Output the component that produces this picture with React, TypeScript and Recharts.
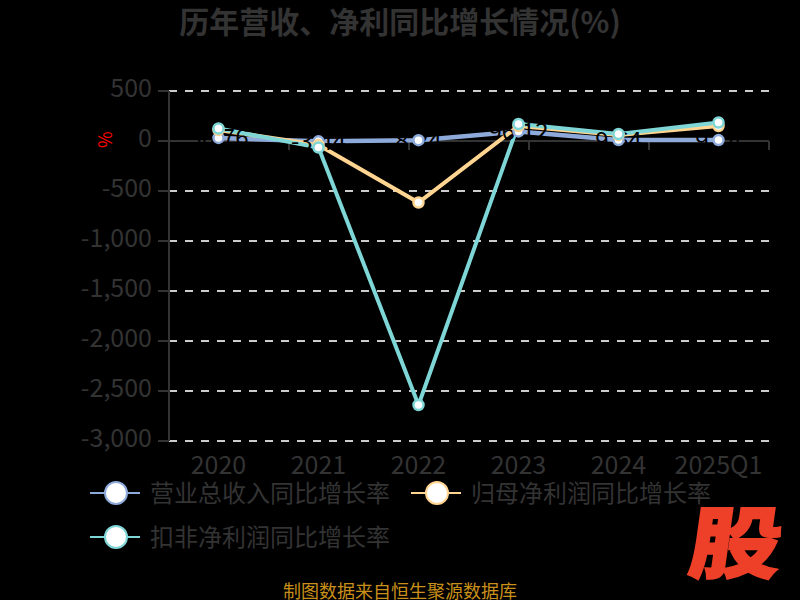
import { LineChart, Line, XAxis, YAxis, CartesianGrid, ReferenceLine, LabelList, Label } from 'recharts'

const years = ['2020', '2021', '2022', '2023', '2024', '2025Q1']
const revenue = [30.76, -3.44, 8.24, 96.12, 9.64, 9.14]
const netProfit = [110, -40, -615, 150, 60, 150]
const deducted = [125, -65, -2640, 170, 70, 185]
const yTicks = [500, 0, -500, -1000, -1500, -2000, -2500, -3000]
const gridValues = [500, -500, -1000, -1500, -2000, -2500, -3000]
const tickBoundaries = [0, 1, 2, 3, 4, 5, 6]

const names = ['营业总收入同比增长率', '归母净利润同比增长率', '扣非净利润同比增长率']
const colors = ['#8eaadb', '#ffd591', '#7fd6d6']
const keys = ['revenue', 'netProfit', 'deducted']

const data = years.map((year, i) => ({
  year,
  revenue: revenue[i],
  netProfit: netProfit[i],
  deducted: deducted[i],
}))

const FONT = '"Noto Sans CJK SC", "Noto Sans", sans-serif'
const AXIS = '#333'

function LegendItem({ index, left, top }: { index: number; left: number; top: number }) {
  return (
    <div style={{ position: 'absolute', left, top, height: 30, width: 300 }}>
      <div style={{ position: 'absolute', left: 0, top: 14, width: 50, height: 2, background: colors[index] }} />
      <div
        style={{
          position: 'absolute', left: 13.5, top: 3, width: 20, height: 20, borderRadius: '50%',
          background: '#fff', border: `2px solid ${colors[index]}`,
        }}
      />
      <div style={{ position: 'absolute', left: 60, top: -4, fontSize: 24, lineHeight: '36px', color: AXIS, whiteSpace: 'nowrap' }}>
        {names[index]}
      </div>
    </div>
  )
}

export default function App() {
  const dot = (color: string) => ({ r: 5, fill: '#fff', stroke: color, strokeWidth: 2.5 })
  return (
    <div style={{ position: 'absolute', left: 0, top: 0, width: 800, height: 600, background: '#000', overflow: 'hidden', fontFamily: FONT }}>
      <div style={{ position: 'absolute', left: 0, width: 800, top: 0, textAlign: 'center', fontSize: 30, fontWeight: 700, lineHeight: '40px', color: AXIS }}>
        历年营收、净利同比增长情况(%)
      </div>
      <LineChart
        width={800}
        height={600}
        data={data}
        margin={{ top: 91, right: 31, bottom: 119, left: 0 }}
        style={{ position: 'absolute', left: 0, top: 0, fontFamily: FONT }}
      >
        <CartesianGrid vertical={false} horizontalValues={gridValues} stroke="#ccc" strokeWidth={2} strokeDasharray="8 8" />
        <XAxis
          dataKey="year"
          padding={{ left: 49.5, right: 50.5 }}
          interval={0}
          height={40}
          axisLine={false}
          tickLine={false}
          tickMargin={9}
          tick={{ fill: AXIS, fontSize: 25 }}
        />
        <XAxis xAxisId="band" type="number" domain={[0, 6]} hide />
        <YAxis
          width={169}
          domain={[-3000, 500]}
          ticks={yTicks}
          interval={0}
          tick={{ fill: AXIS, fontSize: 25, dy: -3 }}
          tickSize={11}
          tickMargin={6}
          tickFormatter={(v: number) => v.toLocaleString('en-US')}
          stroke={AXIS}
          strokeWidth={2}
        >
          <Label value="%" position="insideLeft" angle={-90} offset={106} dy={-118} fill="#f00" fontSize={18} />
        </YAxis>
        <ReferenceLine xAxisId="band" y={0} stroke={AXIS} strokeWidth={2} />
        {tickBoundaries.map((b) => (
          <ReferenceLine
            key={b}
            xAxisId="band"
            segment={[{ x: b, y: 0 }, { x: b, y: -90 }]}
            stroke={AXIS}
            strokeWidth={2}
          />
        ))}
        {/* all the lines first, then markers series by series so later markers cover the black labels */}
        {keys.map((k, i) => (
          <Line key={k} dataKey={k} stroke={colors[i]} strokeWidth={i === 0 ? 4.5 : 4} dot={false} isAnimationActive={false} />
        ))}
        <Line dataKey="revenue" stroke="none" dot={dot(colors[0])} isAnimationActive={false}>
          <LabelList dataKey="revenue" position="center" fill="#000" fontSize={24} zIndex={450} />
        </Line>
        <Line dataKey="netProfit" stroke="none" dot={dot(colors[1])} zIndex={500} isAnimationActive={false} />
        <Line dataKey="deducted" stroke="none" dot={dot(colors[2])} zIndex={500} isAnimationActive={false} />
      </LineChart>
      <LegendItem index={0} left={90} top={478} />
      <LegendItem index={1} left={411} top={478} />
      <LegendItem index={2} left={90} top={522} />
      <div style={{ position: 'absolute', left: 0, width: 800, top: 581, textAlign: 'center', fontSize: 18, lineHeight: '18px', color: '#c8901a' }}>
        制图数据来自恒生聚源数据库
      </div>
      <div
        style={{
          position: 'absolute', left: 691, top: 492, fontSize: 92, fontWeight: 900, lineHeight: '92px',
          color: '#ee4028', transform: 'skewX(-8deg) scaleY(0.85)', WebkitTextStroke: '2px #ee4028',
        }}
      >
        股
      </div>
    </div>
  )
}
